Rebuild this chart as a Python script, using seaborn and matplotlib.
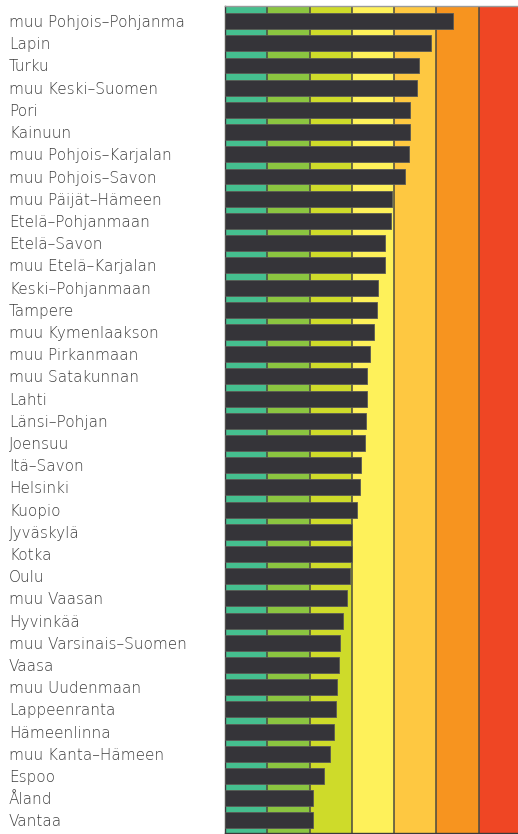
import matplotlib
matplotlib.use("Agg")
import matplotlib.pyplot as plt
import seaborn as sns
import pandas as pd

# --- Data ---
regions = [
    "muu Pohjois–Pohjanma", "Lapin", "Turku", "muu Keski–Suomen", "Pori",
    "Kainuun", "muu Pohjois–Karjalan", "muu Pohjois–Savon", "muu Päijät–Hämeen",
    "Etelä–Pohjanmaan", "Etelä–Savon", "muu Etelä–Karjalan", "Keski–Pohjanmaan",
    "Tampere", "muu Kymenlaakson", "muu Pirkanmaan", "muu Satakunnan", "Lahti",
    "Länsi–Pohjan", "Joensuu", "Itä–Savon", "Helsinki", "Kuopio", "Jyväskylä",
    "Kotka", "Oulu", "muu Vaasan", "Hyvinkää", "muu Varsinais–Suomen", "Vaasa",
    "muu Uudenmaan", "Lappeenranta", "Hämeenlinna", "muu Kanta–Hämeen",
    "Espoo", "Åland", "Vantaa",
]
values = [
    5.40, 4.88, 4.59, 4.53, 4.37, 4.37, 4.35, 4.25, 3.95, 3.92,
    3.78, 3.78, 3.62, 3.60, 3.52, 3.43, 3.37, 3.35, 3.33, 3.31,
    3.22, 3.20, 3.13, 3.00, 3.00, 2.96, 2.88, 2.80, 2.72, 2.70,
    2.65, 2.62, 2.57, 2.48, 2.34, 2.07, 2.07,
]
band_colors = ["#45bf8f", "#8bc540", "#cedb2a", "#fef15a",
               "#fec841", "#f7941f", "#ef4624"]

df = pd.DataFrame({"region": regions, "value": values})

# --- Figure ---
sns.set_style("white")
plt.rcParams["font.family"] = ["DejaVu Sans"]

fig = plt.figure(figsize=(5.18, 8.34), dpi=100)
ax = fig.add_axes([225 / 518, 1 / 834, 293 / 518, 827 / 834])

# background colour bands
for i, c in enumerate(band_colors):
    ax.axvspan(i, i + 1, color=c, zorder=0, lw=0)
    if i > 0:
        ax.axvline(i, color="#4a4a40", lw=1.1, zorder=1)

sns.barplot(data=df, x="value", y="region", orient="h", color="#353439",
            width=0.72, saturation=1, edgecolor="#5a5a55", linewidth=0.6,
            ax=ax, zorder=3)

ax.set_xlim(0, 6.93)
ax.set_ylim(36.57, -0.68)
ax.set_xlabel("")
ax.set_ylabel("")
ax.set_xticks([])
ax.tick_params(axis="y", length=0, pad=216 * 72 / 100, labelsize=11,
               labelcolor="#3c3c3c")
for lbl in ax.get_yticklabels():
    lbl.set_horizontalalignment("left")
    lbl.set_fontweight("light")

for side in ["left", "bottom"]:
    ax.spines[side].set_color("#3a3a3a")
    ax.spines[side].set_linewidth(1.0)
ax.spines["top"].set_color("#9a9a9a")
ax.spines["top"].set_linewidth(1.0)
ax.spines["right"].set_visible(False)

fig.savefig("out.png", dpi=100)
